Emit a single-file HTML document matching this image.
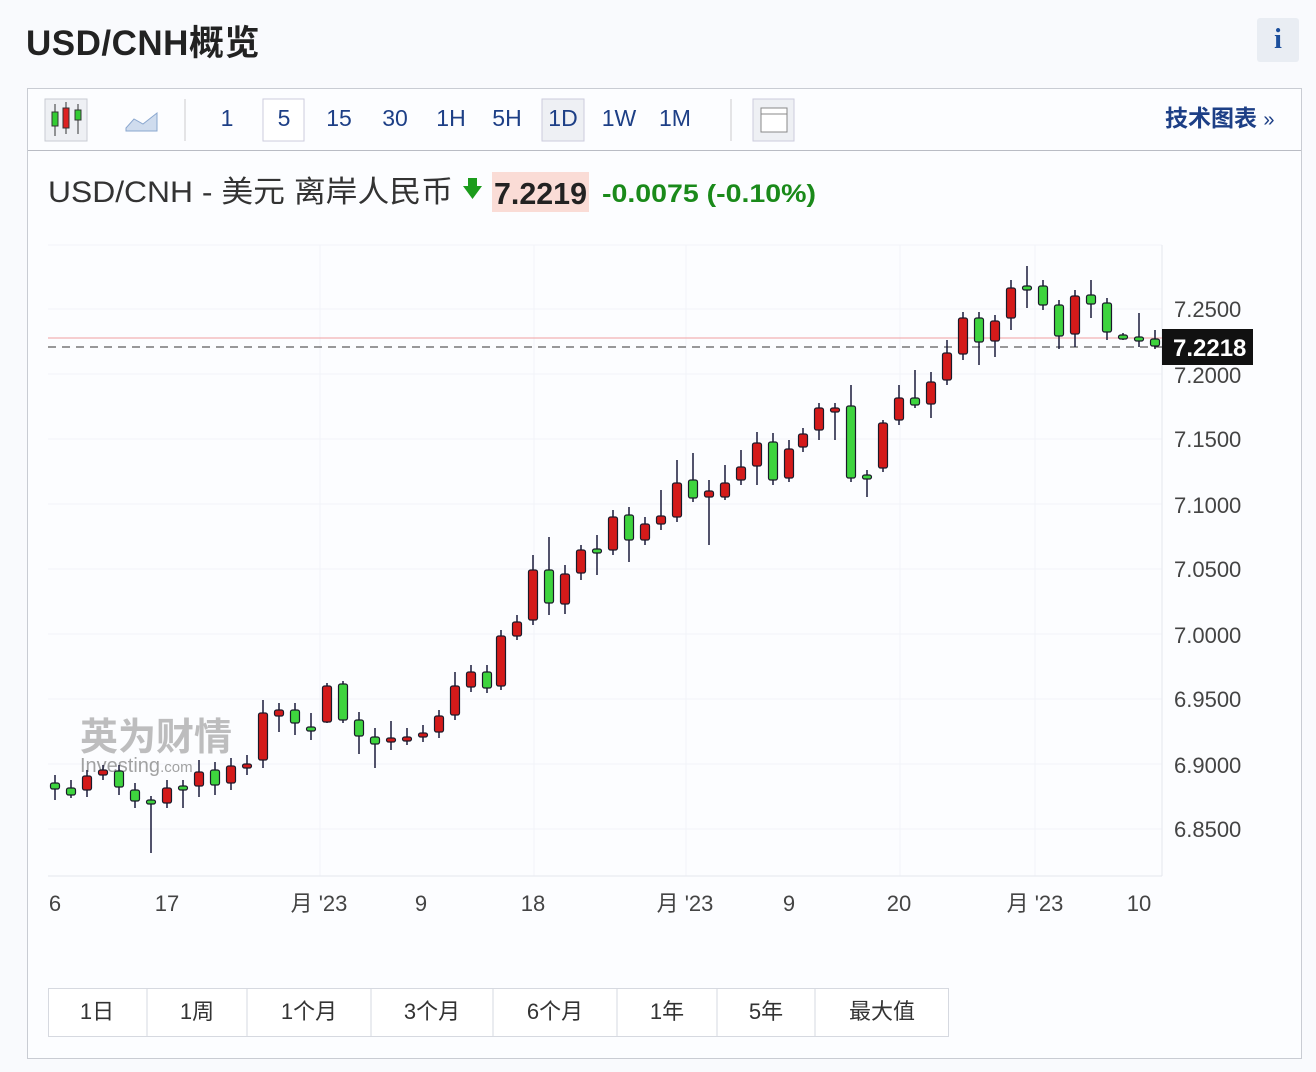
<!DOCTYPE html>
<html><head><meta charset="utf-8"><style>
body{margin:0;width:1316px;height:1072px;background:#f9fafd;font-family:"Liberation Sans","Noto Sans CJK SC",sans-serif;position:relative;overflow:hidden}
.a{position:absolute}
</style></head><body>
<div class="a" style="left:26px;top:15px;font-size:35px;font-weight:bold;color:#222;letter-spacing:0.5px">USD/CNH概览</div>
<div class="a" style="left:1257px;top:18px;width:42px;height:44px;background:#e9edf3;border-radius:3px;color:#1c4f9c;font:bold 28px 'Liberation Serif',serif;text-align:center;line-height:44px">i</div>
<div class="a" style="left:27px;top:88px;width:1273px;height:969px;border:1px solid #c9ccd3;background:#fcfdff"></div>
<div class="a" style="left:28px;top:89px;width:1273px;height:61px;border-bottom:1px solid #b9bcc4;background:#fcfdff"></div>
<svg class="a" style="left:0;top:0" width="1316" height="1072" font-family="Liberation Sans, Noto Sans CJK SC, sans-serif">
<rect x="45" y="99" width="42" height="42" fill="#eef0f4" stroke="#c9ccd3"/>
<g stroke="#333"><line x1="55" y1="104" x2="55" y2="136"/><line x1="66" y1="102" x2="66" y2="134"/><line x1="78" y1="104" x2="78" y2="134"/></g>
<rect x="52" y="112" width="6" height="14" fill="#3c3" stroke="#333"/><rect x="63" y="108" width="6" height="20" fill="#d22" stroke="#333"/><rect x="75" y="110" width="6" height="10" fill="#3c3" stroke="#333"/>
<path d="M126 128 L134 119 L143 124 L157 113 L157 131 L126 131Z" fill="#cfdcee" stroke="#8aa7cf"/>
<line x1="185" y1="99" x2="185" y2="141" stroke="#ccc"/>
<rect x="263" y="99" width="41" height="42" fill="#fff" stroke="#ccd"/>
<rect x="542" y="99" width="42" height="42" fill="#eef0f4" stroke="#ccd"/>
<g fill="#1d3f86" font-size="23" text-anchor="middle">
<text x="227" y="126">1</text><text x="284" y="126">5</text><text x="339" y="126">15</text><text x="395" y="126">30</text><text x="451" y="126">1H</text><text x="507" y="126">5H</text><text x="563" y="126">1D</text><text x="619" y="126">1W</text><text x="675" y="126">1M</text></g>
<line x1="731" y1="99" x2="731" y2="141" stroke="#ccc"/>
<rect x="753" y="99" width="41" height="42" fill="#eef0f4" stroke="#ccd"/>
<rect x="761" y="108" width="26" height="24" fill="#fff" stroke="#888"/><line x1="761" y1="114" x2="787" y2="114" stroke="#888"/>
<text x="1165" y="126" fill="#1d3f86" font-size="23" font-weight="bold">技术图表 <tspan font-size="20" font-weight="normal">»</tspan></text>
<text x="48" y="202" fill="#333" font-size="30" textLength="405" lengthAdjust="spacingAndGlyphs">USD/CNH - 美元 离岸人民币</text>
<path d="M468 186h9v-8h-9z M463 186h19l-9.5 13z" fill="#1c9c1c"/>
<rect x="492" y="172" width="97" height="40" fill="#fadcd6"/>
<text x="494" y="204" fill="#222" font-size="31" font-weight="bold" textLength="93" lengthAdjust="spacingAndGlyphs">7.2219</text>
<text x="602" y="202" fill="#1a8a1a" font-size="25" font-weight="bold" textLength="214" lengthAdjust="spacingAndGlyphs">-0.0075  (-0.10%)</text>
<g stroke="#f2f4f8"><line x1="48" y1="245" x2="1162" y2="245"/>
<line x1="48" y1="309" x2="1162" y2="309"/><line x1="48" y1="374" x2="1162" y2="374"/><line x1="48" y1="439" x2="1162" y2="439"/><line x1="48" y1="504" x2="1162" y2="504"/><line x1="48" y1="569" x2="1162" y2="569"/><line x1="48" y1="634" x2="1162" y2="634"/><line x1="48" y1="699" x2="1162" y2="699"/><line x1="48" y1="764" x2="1162" y2="764"/><line x1="48" y1="829" x2="1162" y2="829"/>
<line x1="320" y1="245" x2="320" y2="876"/><line x1="534" y1="245" x2="534" y2="876"/><line x1="686" y1="245" x2="686" y2="876"/><line x1="900" y1="245" x2="900" y2="876"/><line x1="1035" y1="245" x2="1035" y2="876"/></g>
<line x1="48" y1="876" x2="1162" y2="876" stroke="#e4e7ee"/>
<line x1="1162" y1="245" x2="1162" y2="876" stroke="#e4e7ee"/>
<line x1="48" y1="338" x2="1162" y2="338" stroke="#f0a0a0"/>
<line x1="48" y1="347" x2="1162" y2="347" stroke="#333" stroke-dasharray="8,6"/>
<text x="80" y="750" fill="#8a8a8a" opacity="0.55" font-size="38" font-weight="bold">英为财情</text>
<text x="80" y="772" fill="#666" opacity="0.6" font-size="20">Investing<tspan font-size="15">.com</tspan></text>
<g id="c"></g>
<g fill="#444" font-size="22">
<text x="1174" y="317">7.2500</text><text x="1174" y="383">7.2000</text><text x="1174" y="447">7.1500</text><text x="1174" y="513">7.1000</text><text x="1174" y="577">7.0500</text><text x="1174" y="643">7.0000</text><text x="1174" y="707">6.9500</text><text x="1174" y="773">6.9000</text><text x="1174" y="837">6.8500</text></g>
<rect x="1162" y="329" width="91" height="36" fill="#111"/>
<text x="1173" y="356" fill="#fff" font-size="24" font-weight="bold">7.2218</text>
<g fill="#444" font-size="22" text-anchor="middle">
<text x="55" y="911">6</text><text x="167" y="911">17</text><text x="319" y="911">月 '23</text><text x="421" y="911">9</text><text x="533" y="911">18</text><text x="685" y="911">月 '23</text><text x="789" y="911">9</text><text x="899" y="911">20</text><text x="1035" y="911">月 '23</text><text x="1139" y="911">10</text></g>
<rect x="48.5" y="988.5" width="900" height="48" fill="#fff" stroke="#d6d9e0"/>
<g stroke="#d6d9e0"><line x1="147" y1="988" x2="147" y2="1036"/><line x1="247" y1="988" x2="247" y2="1036"/><line x1="371" y1="988" x2="371" y2="1036"/><line x1="493" y1="988" x2="493" y2="1036"/><line x1="617" y1="988" x2="617" y2="1036"/><line x1="717" y1="988" x2="717" y2="1036"/><line x1="815" y1="988" x2="815" y2="1036"/></g>
<g fill="#333" font-size="22" text-anchor="middle">
<text x="97" y="1019">1日</text><text x="197" y="1019">1周</text><text x="309" y="1019">1个月</text><text x="432" y="1019">3个月</text><text x="555" y="1019">6个月</text><text x="667" y="1019">1年</text><text x="766" y="1019">5年</text><text x="882" y="1019">最大值</text></g>
</svg>
<script>
var d=[[55,783,789,775,800,'g'],[71,788,795,780,798,'g'],[87,776,790,770,797,'r'],[103,770,775,765,780,'r'],[119,771,787,765,795,'g'],[135,790,801,783,808,'g'],[151,800,803,796,853,'g'],[167,788,803,780,808,'r'],[183,786,790,780,808,'g'],[199,772,786,760,797,'r'],[215,770,785,762,795,'g'],[231,766,783,758,790,'r'],[247,764,768,755,775,'r'],[263,713,760,700,768,'r'],[279,710,716,703,732,'r'],[295,710,723,703,735,'g'],[311,727,731,713,740,'g'],[327,686,722,683,723,'r'],[343,684,720,681,723,'g'],[359,720,736,712,754,'g'],[375,737,744,728,768,'g'],[391,738,741,721,750,'r'],[407,737,741,728,745,'r'],[423,733,737,725,742,'r'],[439,716,732,710,738,'r'],[455,686,715,672,720,'r'],[471,672,687,665,692,'r'],[487,672,688,665,693,'g'],[501,636,686,630,690,'r'],[517,622,636,615,640,'r'],[533,570,620,555,625,'r'],[549,570,603,537,615,'g'],[565,574,604,565,614,'r'],[581,550,573,545,580,'r'],[597,549,552,535,575,'g'],[613,517,550,510,555,'r'],[629,515,540,507,562,'g'],[645,524,540,517,545,'r'],[661,516,524,490,530,'r'],[677,483,517,460,522,'r'],[693,480,498,453,502,'g'],[709,491,497,480,545,'r'],[725,483,497,465,500,'r'],[741,467,480,450,485,'r'],[757,443,466,432,485,'r'],[773,442,480,433,485,'g'],[789,449,478,440,482,'r'],[803,434,447,428,452,'r'],[819,408,430,403,440,'r'],[835,408,411,403,440,'r'],[851,406,478,385,482,'g'],[867,475,478,470,497,'g'],[883,423,468,420,472,'r'],[899,398,420,385,425,'r'],[915,398,405,370,408,'g'],[931,382,404,372,418,'r'],[947,353,380,340,385,'r'],[963,318,354,312,360,'r'],[979,318,342,312,365,'g'],[995,321,341,315,357,'r'],[1011,288,318,280,330,'r'],[1027,286,290,266,308,'g'],[1043,286,305,280,310,'g'],[1059,305,336,300,349,'g'],[1075,296,334,290,347,'r'],[1091,295,304,280,318,'g'],[1107,303,332,298,340,'g'],[1123,335,338,333,340,'g'],[1139,337,340,313,347,'g'],[1155,339,346,330,349,'g']];
var s='';d.forEach(function(c){var h=Math.max(c[2]-c[1],4);s+='<line x1="'+c[0]+'" y1="'+c[3]+'" x2="'+c[0]+'" y2="'+c[4]+'" stroke="#1a1a3a" stroke-width="1.5"/><rect x="'+(c[0]-4.5)+'" y="'+c[1]+'" width="9" height="'+h+'" rx="2" fill="'+(c[5]=='g'?'#3ed43e':'#d41a1a')+'" stroke="#1a1a2a" stroke-width="1.2"/>';});
document.getElementById('c').innerHTML=s;
</script>
</body></html>
